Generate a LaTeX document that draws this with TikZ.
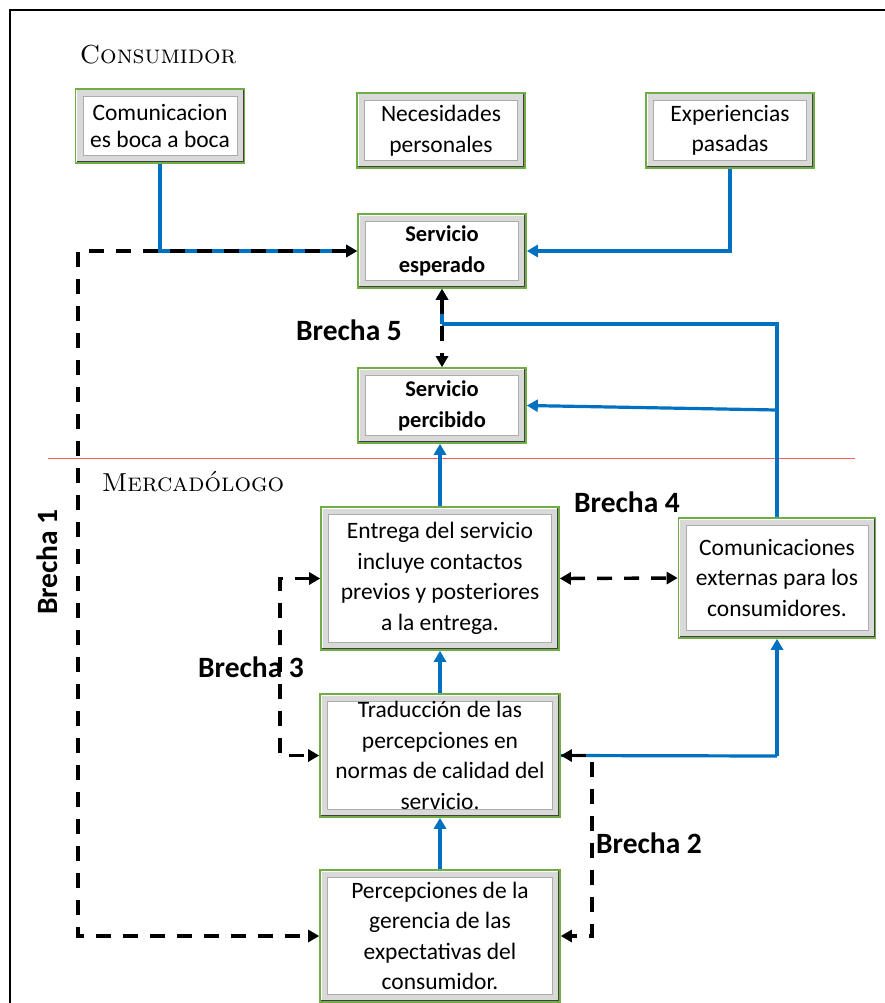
\documentclass[tikz,border=0pt]{standalone}
\usepackage{fontspec}
\newfontfamily\calfont{Carlito}
\usetikzlibrary{arrows.meta}
\definecolor{bblue}{HTML}{0070C0}
\definecolor{bgreen}{HTML}{70AD47}
\tikzset{
  box/.style={draw=bgreen, line width=1.6pt, fill=white, align=center, inner sep=0pt,
    font=\calfont\fontsize{23.5}{30.5}\selectfont,
    path picture={
      \draw[gray!30, line width=6pt]
        ([shift={(4.5pt,-4.5pt)}]path picture bounding box.north west) rectangle
        ([shift={(-4.5pt,4.5pt)}]path picture bounding box.south east);
      \draw[gray!65, line width=0.9pt]
        ([shift={(7.5pt,-7.5pt)}]path picture bounding box.north west) rectangle
        ([shift={(-7.5pt,7.5pt)}]path picture bounding box.south east);
      \draw[black!75, line width=1.6pt]
        ([shift={(-1pt,-1pt)}]path picture bounding box.north east) --
        ([shift={(-1pt,1pt)}]path picture bounding box.south east) --
        ([shift={(1pt,1pt)}]path picture bounding box.south west);
    }},
  bluearrow/.style={draw=bblue, line width=3.2pt, -{Triangle[length=11pt,width=12pt]}},
  blueline/.style={draw=bblue, line width=3.2pt},
  gaparrow/.style={draw=black, line width=3.4pt, dash pattern=on 15pt off 12pt,
    {Triangle[length=11pt,width=12pt]}-{Triangle[length=11pt,width=12pt]}},
  brecha/.style={font=\calfont\bfseries\fontsize{29.5}{32}\selectfont, inner sep=0pt},
  zone/.style={font=\fontsize{26}{28}\selectfont\scshape, inner sep=0pt}
}
\begin{document}
\begin{tikzpicture}[x=1pt,y=-1pt]
\useasboundingbox (0,0) rectangle (885,1003);
% frame
\draw[line width=1.6pt] (10,1003) -- (10,10) -- (885,10);
% zone labels and divider
\node[zone] (consumidor) at (158,55) {Consumidor};
\node[zone] (mercadologo) at (193,482) {Mercadólogo};
\draw[red!65, line width=0.8pt] (48,458) -- (855,458);
% boxes
\node[box, minimum width=169, minimum height=74, font=\calfont\fontsize{23.5}{27}\selectfont] (com) at (160,126) {Comunicacion\\es boca a boca};
\node[box, minimum width=168, minimum height=75] (nec) at (441,130.5) {Necesidades\\personales};
\node[box, minimum width=168, minimum height=75] (exp) at (730,130.5) {Experiencias\\pasadas};
\node[box, minimum width=168, minimum height=74, font=\calfont\bfseries\fontsize{22.5}{31}\selectfont] (esp) at (442,251) {Servicio\\esperado};
\node[box, minimum width=168, minimum height=75, font=\calfont\bfseries\fontsize{22.5}{31}\selectfont] (per) at (442,405.5) {Servicio\\percibido};
\node[box, minimum width=238, minimum height=143] (ent) at (440,578.5) {Entrega del servicio\\incluye contactos\\previos y posteriores\\a la entrega.};
\node[box, minimum width=197, minimum height=120] (ext) at (777,578) {Comunicaciones\\externas para los\\consumidores.};
\node[box, minimum width=240, minimum height=123] (tra) at (440,755.5) {Traducción de las\\percepciones en\\normas de calidad del\\servicio.};
\node[box, minimum width=240, minimum height=132] (pge) at (440,936) {Percepciones de la\\gerencia de las\\expectativas del\\consumidor.};
% helper coordinates
\coordinate (t5) at (442,324);
\coordinate (t5r) at (777,324);
\coordinate (j1) at (777,410);
\coordinate (j2) at (777,756);
\coordinate (b1a) at (78,251);
\coordinate (b1b) at (78,936);
\coordinate (b3a) at (280,578.5);
\coordinate (b3b) at (280,755.5);
\coordinate (b2a) at (592,755.5);
\coordinate (b2b) at (592,936);
% blue flows
\draw[bluearrow] (com.south) |- (esp.west);
\draw[bluearrow] (exp.south) |- (esp.east);
\draw[blueline] (ext.north) -- (t5r) -- (t5);
\draw[bluearrow] (t5) -- (esp.south);
\draw[bluearrow] (j1) -- (per.east);
\draw[bluearrow] (ent.north) -- (ent.north |- per.south);
\draw[bluearrow] (tra.north) -- (ent.south);
\draw[bluearrow] (pge.north) -- (tra.south);
\draw[blueline] (tra.east) -- (j2);
\draw[bluearrow] (j2) -- (ext.south);
% gaps (dashed)
\draw[gaparrow] (esp.west) -- (b1a) -- (b1b) -- (pge.west);
\draw[gaparrow] (esp.south) -- (per.north);
\draw[gaparrow] (ent.east) -- (ext.west);
\draw[gaparrow] (ent.west) -- (b3a) -- (b3b) -- (tra.west);
\draw[gaparrow] (tra.east) -- (b2a) -- (b2b) -- (pge.east);
% gap labels
\node[brecha] (l5) at (349,330) {Brecha 5};
\node[brecha] (l4) at (627,502) {Brecha 4};
\node[brecha] (l3) at (251,667) {Brecha 3};
\node[brecha] (l2) at (649,843) {Brecha 2};
\node[brecha, rotate=90] (l1) at (47,562) {Brecha 1};
\end{tikzpicture}
\end{document}
